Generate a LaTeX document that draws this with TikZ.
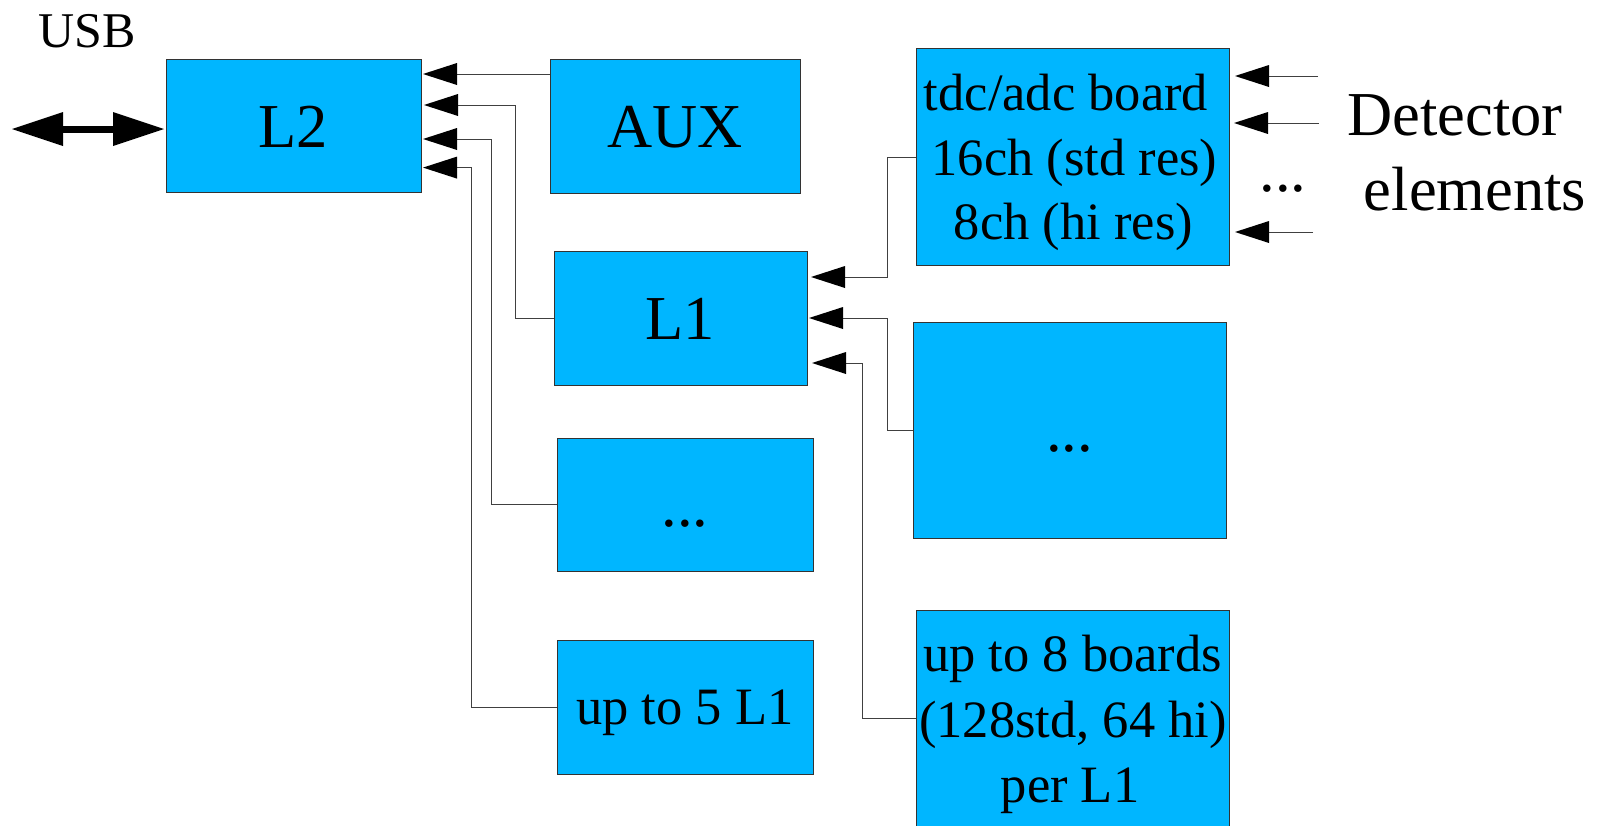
\documentclass[tikz,border=0pt]{standalone}
\usepackage{fontspec}
\setmainfont{Liberation Serif}
\usetikzlibrary{arrows.meta}
\definecolor{boxblue}{RGB}{0,182,255}
\begin{document}
\begin{tikzpicture}[x=0.5pt,y=-0.5pt,
  fbig/.style={font=\fontsize{31.25pt}{36pt}\selectfont},
  fmed/.style={font=\fontsize{26.25pt}{30pt}\selectfont},
  fusb/.style={font=\fontsize{25pt}{30pt}\selectfont},
  blk/.style={draw=black!80,line width=0.5pt,fill=boxblue,inner sep=0pt,outer sep=0pt,text depth=0pt},
  bigbox/.style={blk,fbig,text height=21.9pt},
  medbox/.style={blk,fmed,text height=17.6pt},
  lbl/.style={anchor=base,inner sep=0pt,outer sep=0pt},
  conn/.style={draw=black!75,line width=0.5pt,-{Triangle[length=17pt,width=11pt,line width=0pt,color=black]}},
  usbarrow/.style={draw=black,line width=3.5pt,
    {Triangle[length=25.5pt,width=17pt,line width=0pt]}-{Triangle[length=25.5pt,width=17pt,line width=0pt]}}]
\useasboundingbox (0,0) rectangle (1601,825);

% boxes
\node[bigbox,minimum width=127.5pt,minimum height=66.5pt] (l2) at (293.5,125.5) {L2};
\node[bigbox,minimum width=125pt,minimum height=67pt] (aux) at (675,126) {AUX};
\node[bigbox,minimum width=126.5pt,minimum height=67pt] (l1) at (680.5,318) {L1};
\node[bigbox,minimum width=128pt,minimum height=66.5pt] (dotsL) at (685,504.5) {...};
\node[medbox,minimum width=128pt,minimum height=67pt] (up5) at (685,707) {up to 5 L1};
\node[blk,minimum width=156.5pt,minimum height=108.5pt] (tdc) at (1072.5,156.5) {};
\node[bigbox,minimum width=156.5pt,minimum height=108pt] (dotsR) at (1069.5,430) {...};
\node[blk,minimum width=156.5pt,minimum height=110pt] (up8) at (1072.5,720) {};

% texts of multi-line boxes
\node[lbl,fmed] (tdcA) at (1066,110) {tdc/adc board};
\node[lbl,fmed] (tdcB) at (1074.5,175) {16ch (std res)};
\node[lbl,fmed] (tdcC) at (1073.5,239) {8ch (hi res)};
\node[lbl,fmed] (up8A) at (1072.5,671) {up to 8 boards};
\node[lbl,fmed] (up8B) at (1073,737) {(128std, 64 hi)};
\node[lbl,fmed] (up8C) at (1070,802) {per L1};

% free labels
\node[lbl,fusb] (usb) at (87.5,47) {USB};
\node[lbl,fbig] (detA) at (1455,135) {Detector};
\node[lbl,fbig] (detB) at (1475,210) {elements};
\node[lbl,fbig] (detdots) at (1283,191) {...};

% USB double arrow
\coordinate (usbend) at (12,129);
\draw[usbarrow,shorten >=1pt] (usbend) -- (usbend -| l2.west);

% connectors into L2
\draw[conn,shorten >=1pt] ([yshift=-7.5pt]aux.north west) -- ([yshift=-7.5pt]l2.north east);
\draw[conn,shorten >=1.5pt] (l1.west) -- ++(-39,0) |- ([yshift=-23pt]l2.north east);
\draw[conn,shorten >=1pt] (dotsL.west) -- ++(-66,0) |- ([yshift=-40pt]l2.north east);
\draw[conn,shorten >=1pt] (up5.west) -- ++(-86,0) |- ([yshift=-54.3pt]l2.north east);

% connectors into L1
\draw[conn,shorten >=2pt] ([yshift=-54.5pt]tdc.north west) -- ++(-29,0) |- ([yshift=-13pt]l1.north east);
\draw[conn,shorten >=1pt] (dotsR.west) -- ++(-26,0) |- (l1.east);
\draw[conn,shorten >=2.5pt] ([yshift=-54pt]up8.north west) -- ++(-54,0) |- ([yshift=-56pt]l1.north east);

% detector inputs
\coordinate (d1) at (1318,76);
\coordinate (d2) at (1319,123);
\coordinate (d3) at (1313,232);
\draw[conn,shorten >=3pt] (d1) -- (d1 -| tdc.east);
\draw[conn,shorten >=2.5pt] (d2) -- (d2 -| tdc.east);
\draw[conn,shorten >=3pt] (d3) -- (d3 -| tdc.east);
\end{tikzpicture}
\end{document}
